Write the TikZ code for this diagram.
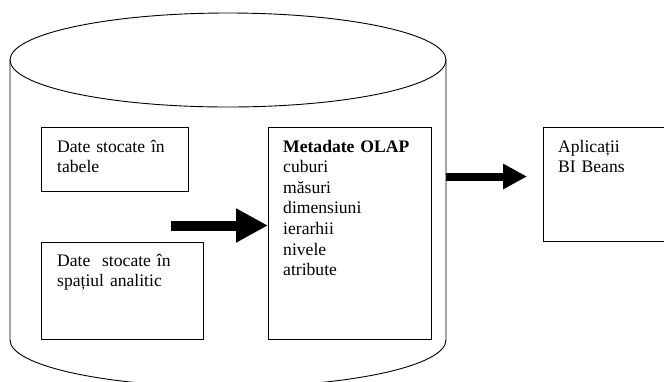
\documentclass[tikz,border=0pt]{standalone}
\usepackage{fontspec}
\setmainfont{Liberation Serif}
\usetikzlibrary{arrows.meta}
\begin{document}
\begin{tikzpicture}[x=1pt,y=-1pt,
  outline/.style={line width=0.9pt},
  box/.style={draw, line width=0.9pt, rectangle, anchor=north west, inner sep=0pt},
  txt/.style={anchor=base west, inner sep=0pt, text width=150pt, align=left,
              font=\fontsize{17.6}{20.6}\selectfont},
  fatarrow/.style={line width=10pt, -{Triangle[length=32pt,width=32pt]}},
  fatarrowb/.style={line width=8pt, -{Triangle[length=24pt,width=24pt]}}]
\useasboundingbox (0,0) rectangle (664,381);
\clip (0,0) rectangle (664,381);
% cylinder
\draw[outline] (228,60) ellipse [x radius=218, y radius=47];
\draw[outline] (10,60) -- (10,340) arc[start angle=180, end angle=0, x radius=218, y radius=47] -- (446,60);
% boxes
\node[box, minimum width=147pt, minimum height=64pt] (b1) at (41,127) {};
\node[box, minimum width=162pt, minimum height=97pt] (b2) at (41,242) {};
\node[box, minimum width=163pt, minimum height=212pt] (b3) at (268,127) {};
\node[box, minimum width=140pt, minimum height=114pt] (b4) at (543,127) {};
% texts
\node[txt] (t1) at (57,152) {Date stocate în\\tabele};
\node[txt] (t2) at (57,266) {Date\ \ stocate în\\spațiul analitic};
\node[txt] (t3) at (283,152) {\textbf{Metadate OLAP}\\cuburi\\măsuri\\dimensiuni\\ierarhii\\nivele\\atribute};
\node[txt] (t4) at (558,152) {Aplicații\\BI Beans};
% arrows
\coordinate (a1) at (171,225.5);
\draw[fatarrow] (a1) -- (a1 -| b3.west);
\coordinate (cylE) at (446,176.5);
\coordinate (a2) at (527,176.5);
\draw[fatarrowb] (cylE) -- (a2);
\end{tikzpicture}
\end{document}
